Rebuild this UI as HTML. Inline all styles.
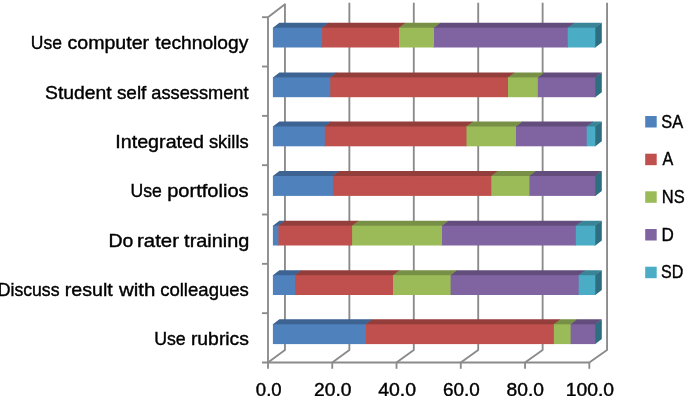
<!DOCTYPE html>
<html><head><meta charset="utf-8"><title>Chart</title>
<style>html,body{margin:0;padding:0;background:#fff}svg{display:block}text{font-family:"Liberation Sans",sans-serif;fill:#000}</style></head>
<body>
<svg width="685" height="396" viewBox="0 0 685 396">
<rect width="685" height="396" fill="#fff"/>
<g stroke="#8A8A8A" stroke-width="1.85" fill="none" stroke-linecap="butt" stroke-linejoin="round">
<polyline points="268.00,17.2 284.95,4.2 284.95,350.0 268.00,362.5"/>
<line x1="268.00" y1="362.5" x2="268.00" y2="368.8"/>
<polyline points="349.37,2.8 349.37,350.0 332.26,362.5"/>
<line x1="332.26" y1="362.5" x2="332.26" y2="368.8"/>
<polyline points="413.79,2.8 413.79,350.0 396.52,362.5"/>
<line x1="396.52" y1="362.5" x2="396.52" y2="368.8"/>
<polyline points="478.21,2.8 478.21,350.0 460.78,362.5"/>
<line x1="460.78" y1="362.5" x2="460.78" y2="368.8"/>
<polyline points="542.63,2.8 542.63,350.0 525.04,362.5"/>
<line x1="525.04" y1="362.5" x2="525.04" y2="368.8"/>
<polyline points="607.05,2.8 607.05,350.0 589.30,362.5"/>
<line x1="589.30" y1="362.5" x2="589.30" y2="368.8"/>
<line x1="268.0" y1="17.2" x2="268.0" y2="362.5"/>
<line x1="262" y1="362.5" x2="589.30" y2="362.5"/>
<line x1="262" y1="17.20" x2="268.0" y2="17.20"/>
<line x1="262" y1="66.53" x2="268.0" y2="66.53"/>
<line x1="262" y1="115.86" x2="268.0" y2="115.86"/>
<line x1="262" y1="165.19" x2="268.0" y2="165.19"/>
<line x1="262" y1="214.51" x2="268.0" y2="214.51"/>
<line x1="262" y1="263.84" x2="268.0" y2="263.84"/>
<line x1="262" y1="313.17" x2="268.0" y2="313.17"/>
</g>
<polygon points="594.3,27.7 601.8,22.7 601.8,42.5 595.3,47.5 594.3,47.5" fill="#2D6F80"/>
<polygon points="567.1,28.4 567.1,27.7 573.6,22.7 601.8,22.7 595.3,27.7 595.3,28.4" fill="#3A8498"/>
<polygon points="433.3,28.4 433.3,27.7 439.8,22.7 574.3,22.7 567.8,27.7 567.8,28.4" fill="#634D7D"/>
<polygon points="398.3,28.4 398.3,27.7 404.8,22.7 440.5,22.7 434.0,27.7 434.0,28.4" fill="#779045"/>
<polygon points="321.4,28.4 321.4,27.7 327.9,22.7 405.5,22.7 399.0,27.7 399.0,28.4" fill="#943E3B"/>
<polygon points="272.9,28.4 272.9,27.7 279.4,22.7 328.6,22.7 322.1,27.7 322.1,28.4" fill="#3D6392"/>
<rect x="567.1" y="27.7" width="28.2" height="19.8" fill="#4BACC6"/>
<rect x="433.3" y="27.7" width="134.5" height="19.8" fill="#8064A2"/>
<rect x="398.3" y="27.7" width="35.7" height="19.8" fill="#9BBB59"/>
<rect x="321.4" y="27.7" width="77.6" height="19.8" fill="#C0504D"/>
<rect x="272.9" y="27.7" width="49.2" height="19.8" fill="#4F81BD"/>
<polygon points="594.3,77.4 601.8,72.4 601.8,92.2 595.3,97.2 594.3,97.2" fill="#2D6F80"/>
<polygon points="537.1,78.1 537.1,77.4 543.6,72.4 601.8,72.4 595.3,77.4 595.3,78.1" fill="#634D7D"/>
<polygon points="507.3,78.1 507.3,77.4 513.8,72.4 544.3,72.4 537.8,77.4 537.8,78.1" fill="#779045"/>
<polygon points="329.5,78.1 329.5,77.4 336.0,72.4 514.5,72.4 508.0,77.4 508.0,78.1" fill="#943E3B"/>
<polygon points="272.9,78.1 272.9,77.4 279.4,72.4 336.7,72.4 330.2,77.4 330.2,78.1" fill="#3D6392"/>
<rect x="537.1" y="77.4" width="58.2" height="19.8" fill="#8064A2"/>
<rect x="507.3" y="77.4" width="30.5" height="19.8" fill="#9BBB59"/>
<rect x="329.5" y="77.4" width="178.5" height="19.8" fill="#C0504D"/>
<rect x="272.9" y="77.4" width="57.3" height="19.8" fill="#4F81BD"/>
<polygon points="594.3,126.5 601.8,121.5 601.8,141.3 595.3,146.3 594.3,146.3" fill="#2D6F80"/>
<polygon points="586.0,127.2 586.0,126.5 592.5,121.5 601.8,121.5 595.3,126.5 595.3,127.2" fill="#3A8498"/>
<polygon points="515.3,127.2 515.3,126.5 521.8,121.5 593.2,121.5 586.7,126.5 586.7,127.2" fill="#634D7D"/>
<polygon points="465.8,127.2 465.8,126.5 472.3,121.5 522.5,121.5 516.0,126.5 516.0,127.2" fill="#779045"/>
<polygon points="324.1,127.2 324.1,126.5 330.6,121.5 473.0,121.5 466.5,126.5 466.5,127.2" fill="#943E3B"/>
<polygon points="272.9,127.2 272.9,126.5 279.4,121.5 331.3,121.5 324.8,126.5 324.8,127.2" fill="#3D6392"/>
<rect x="586.0" y="126.5" width="9.3" height="19.8" fill="#4BACC6"/>
<rect x="515.3" y="126.5" width="71.4" height="19.8" fill="#8064A2"/>
<rect x="465.8" y="126.5" width="50.2" height="19.8" fill="#9BBB59"/>
<rect x="324.1" y="126.5" width="142.4" height="19.8" fill="#C0504D"/>
<rect x="272.9" y="126.5" width="51.9" height="19.8" fill="#4F81BD"/>
<polygon points="594.3,176.1 601.8,171.1 601.8,190.9 595.3,195.9 594.3,195.9" fill="#2D6F80"/>
<polygon points="528.7,176.8 528.7,176.1 535.2,171.1 601.8,171.1 595.3,176.1 595.3,176.8" fill="#634D7D"/>
<polygon points="490.6,176.8 490.6,176.1 497.1,171.1 535.9,171.1 529.4,176.1 529.4,176.8" fill="#779045"/>
<polygon points="332.2,176.8 332.2,176.1 338.7,171.1 497.8,171.1 491.3,176.1 491.3,176.8" fill="#943E3B"/>
<polygon points="272.9,176.8 272.9,176.1 279.4,171.1 339.4,171.1 332.9,176.1 332.9,176.8" fill="#3D6392"/>
<rect x="528.7" y="176.1" width="66.6" height="19.8" fill="#8064A2"/>
<rect x="490.6" y="176.1" width="38.8" height="19.8" fill="#9BBB59"/>
<rect x="332.2" y="176.1" width="159.1" height="19.8" fill="#C0504D"/>
<rect x="272.9" y="176.1" width="60.0" height="19.8" fill="#4F81BD"/>
<polygon points="594.3,225.7 601.8,220.7 601.8,240.5 595.3,245.5 594.3,245.5" fill="#2D6F80"/>
<polygon points="575.2,226.4 575.2,225.7 581.7,220.7 601.8,220.7 595.3,225.7 595.3,226.4" fill="#3A8498"/>
<polygon points="441.3,226.4 441.3,225.7 447.8,220.7 582.4,220.7 575.9,225.7 575.9,226.4" fill="#634D7D"/>
<polygon points="351.4,226.4 351.4,225.7 357.9,220.7 448.5,220.7 442.0,225.7 442.0,226.4" fill="#779045"/>
<polygon points="277.7,226.4 277.7,225.7 284.2,220.7 358.6,220.7 352.1,225.7 352.1,226.4" fill="#943E3B"/>
<polygon points="272.9,226.4 272.9,225.7 279.4,220.7 284.9,220.7 278.4,225.7 278.4,226.4" fill="#3D6392"/>
<rect x="575.2" y="225.7" width="20.1" height="19.8" fill="#4BACC6"/>
<rect x="441.3" y="225.7" width="134.6" height="19.8" fill="#8064A2"/>
<rect x="351.4" y="225.7" width="90.6" height="19.8" fill="#9BBB59"/>
<rect x="277.7" y="225.7" width="74.4" height="19.8" fill="#C0504D"/>
<rect x="272.9" y="225.7" width="5.5" height="19.8" fill="#4F81BD"/>
<polygon points="594.3,275.2 601.8,270.2 601.8,290.0 595.3,295.0 594.3,295.0" fill="#2D6F80"/>
<polygon points="578.0,275.9 578.0,275.2 584.5,270.2 601.8,270.2 595.3,275.2 595.3,275.9" fill="#3A8498"/>
<polygon points="449.9,275.9 449.9,275.2 456.4,270.2 585.2,270.2 578.7,275.2 578.7,275.9" fill="#634D7D"/>
<polygon points="392.3,275.9 392.3,275.2 398.8,270.2 457.1,270.2 450.6,275.2 450.6,275.9" fill="#779045"/>
<polygon points="294.3,275.9 294.3,275.2 300.8,270.2 399.5,270.2 393.0,275.2 393.0,275.9" fill="#943E3B"/>
<polygon points="272.9,275.9 272.9,275.2 279.4,270.2 301.5,270.2 295.0,275.2 295.0,275.9" fill="#3D6392"/>
<rect x="578.0" y="275.2" width="17.3" height="19.8" fill="#4BACC6"/>
<rect x="449.9" y="275.2" width="128.8" height="19.8" fill="#8064A2"/>
<rect x="392.3" y="275.2" width="58.3" height="19.8" fill="#9BBB59"/>
<rect x="294.3" y="275.2" width="98.7" height="19.8" fill="#C0504D"/>
<rect x="272.9" y="275.2" width="22.1" height="19.8" fill="#4F81BD"/>
<polygon points="594.3,324.3 601.8,319.3 601.8,339.1 595.3,344.1 594.3,344.1" fill="#2D6F80"/>
<polygon points="569.9,325.0 569.9,324.3 576.4,319.3 601.8,319.3 595.3,324.3 595.3,325.0" fill="#634D7D"/>
<polygon points="553.2,325.0 553.2,324.3 559.7,319.3 577.1,319.3 570.6,324.3 570.6,325.0" fill="#779045"/>
<polygon points="365.1,325.0 365.1,324.3 371.6,319.3 560.4,319.3 553.9,324.3 553.9,325.0" fill="#943E3B"/>
<polygon points="272.9,325.0 272.9,324.3 279.4,319.3 372.3,319.3 365.8,324.3 365.8,325.0" fill="#3D6392"/>
<rect x="569.9" y="324.3" width="25.4" height="19.8" fill="#8064A2"/>
<rect x="553.2" y="324.3" width="17.4" height="19.8" fill="#9BBB59"/>
<rect x="365.1" y="324.3" width="188.8" height="19.8" fill="#C0504D"/>
<rect x="272.9" y="324.3" width="92.9" height="19.8" fill="#4F81BD"/>
<g font-size="19" stroke="#000" stroke-width="0.4">
<text y="49.3"><tspan x="30.82" textLength="31.11" lengthAdjust="spacingAndGlyphs">Use</tspan> <tspan x="67.53" textLength="81.58" lengthAdjust="spacingAndGlyphs">computer</tspan> <tspan x="155.35" textLength="93.01" lengthAdjust="spacingAndGlyphs">technology</tspan></text>
<text y="98.7"><tspan x="45.08" textLength="66.62" lengthAdjust="spacingAndGlyphs">Student</tspan> <tspan x="116.90" textLength="29.48" lengthAdjust="spacingAndGlyphs">self</tspan> <tspan x="151.28" textLength="97.24" lengthAdjust="spacingAndGlyphs">assessment</tspan></text>
<text y="148.0"><tspan x="115.29" textLength="88.69" lengthAdjust="spacingAndGlyphs">Integrated</tspan> <tspan x="208.92" textLength="39.73" lengthAdjust="spacingAndGlyphs">skills</tspan></text>
<text y="197.4"><tspan x="130.51" textLength="31.33" lengthAdjust="spacingAndGlyphs">Use</tspan> <tspan x="167.18" textLength="81.46" lengthAdjust="spacingAndGlyphs">portfolios</tspan></text>
<text y="246.7"><tspan x="108.57" textLength="24.85" lengthAdjust="spacingAndGlyphs">Do</tspan> <tspan x="137.06" textLength="41.89" lengthAdjust="spacingAndGlyphs">rater</tspan> <tspan x="184.14" textLength="65.25" lengthAdjust="spacingAndGlyphs">training</tspan></text>
<text y="295.6"><tspan x="-2.29" textLength="61.81" lengthAdjust="spacingAndGlyphs">Discuss</tspan> <tspan x="64.71" textLength="48.02" lengthAdjust="spacingAndGlyphs">result</tspan> <tspan x="118.90" textLength="36.40" lengthAdjust="spacingAndGlyphs">with</tspan> <tspan x="160.17" textLength="88.71" lengthAdjust="spacingAndGlyphs">colleagues</tspan></text>
<text y="344.9"><tspan x="154.20" textLength="31.54" lengthAdjust="spacingAndGlyphs">Use</tspan> <tspan x="190.93" textLength="58.05" lengthAdjust="spacingAndGlyphs">rubrics</tspan></text>
<text y="396.0"><tspan x="255.87" textLength="25.79" lengthAdjust="spacingAndGlyphs">0.0</tspan></text>
<text y="396.0"><tspan x="314.09" textLength="37.46" lengthAdjust="spacingAndGlyphs">20.0</tspan></text>
<text y="396.0"><tspan x="378.19" textLength="37.86" lengthAdjust="spacingAndGlyphs">40.0</tspan></text>
<text y="396.0"><tspan x="443.01" textLength="36.72" lengthAdjust="spacingAndGlyphs">60.0</tspan></text>
<text y="396.0"><tspan x="506.64" textLength="37.40" lengthAdjust="spacingAndGlyphs">80.0</tspan></text>
<text y="396.0"><tspan x="565.68" textLength="48.33" lengthAdjust="spacingAndGlyphs">100.0</tspan></text>
<rect x="645.2" y="116.0" width="11.5" height="11.5" fill="#4F81BD" stroke="none"/>
<text y="127.7"><tspan x="661.24" textLength="21.86" lengthAdjust="spacingAndGlyphs">SA</tspan></text>
<rect x="645.2" y="153.7" width="11.5" height="11.5" fill="#C0504D" stroke="none"/>
<text y="165.4"><tspan x="662.40" textLength="10.76" lengthAdjust="spacingAndGlyphs">A</tspan></text>
<rect x="645.2" y="191.3" width="11.5" height="11.5" fill="#9BBB59" stroke="none"/>
<text y="203.0"><tspan x="661.80" textLength="22.89" lengthAdjust="spacingAndGlyphs">NS</tspan></text>
<rect x="645.2" y="229.0" width="11.5" height="11.5" fill="#8064A2" stroke="none"/>
<text y="240.7"><tspan x="661.55" textLength="12.33" lengthAdjust="spacingAndGlyphs">D</tspan></text>
<rect x="645.2" y="266.7" width="11.5" height="11.5" fill="#4BACC6" stroke="none"/>
<text y="278.4"><tspan x="661.06" textLength="22.31" lengthAdjust="spacingAndGlyphs">SD</tspan></text>
</g>
</svg>
</body></html>
